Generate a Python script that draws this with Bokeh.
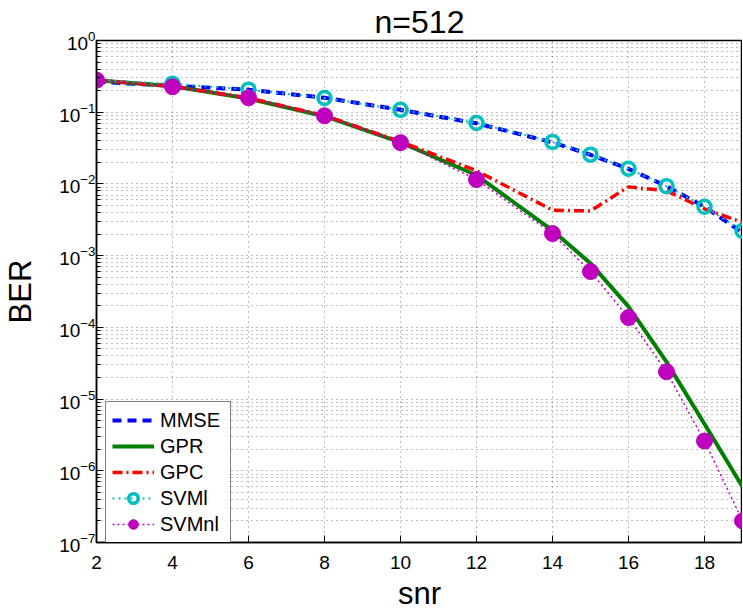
from bokeh.plotting import figure
from bokeh.models import Range1d, FixedTicker, LogTickFormatter, Legend, LegendItem
from bokeh.embed import file_html
from bokeh.resources import INLINE

# ---- data ----
snr = [2, 4, 6, 8, 10, 12, 14, 15, 16, 17, 18, 19]
ber_mmse = [0.265, 0.234, 0.206, 0.159, 0.108, 0.070, 0.038, 0.0255, 0.0162, 0.0093, 0.0048, 0.0021]
ber_gpr = [0.28, 0.23, 0.155, 0.088, 0.038, 0.0132, 0.00225, 0.00078, 0.000195, 3.3e-5, 4.5e-6, 6.0e-7]
ber_gpc = [0.28, 0.23, 0.158, 0.090, 0.039, 0.0153, 0.0043, 0.0042, 0.0091, 0.0080, 0.0045, 0.0029]
ber_svml = [0.28, 0.25, 0.206, 0.158, 0.108, 0.0707, 0.0385, 0.0256, 0.0163, 0.0093, 0.0048, 0.00222]
ber_svmnl = [0.28, 0.226, 0.159, 0.089, 0.0376, 0.0115, 0.00203, 0.00060, 0.000137, 2.4e-5, 2.6e-6, 2.0e-7]

x_ticks = [2, 4, 6, 8, 10, 12, 14, 16, 18]
y_decades = [-7, -6, -5, -4, -3, -2, -1, 0]
title_text = "n=512"
x_label = "snr"
y_label = "BER"
names = ["MMSE", "GPR", "GPC", "SVMl", "SVMnl"]

FONT = "Liberation Sans"

y_major = [10.0 ** d for d in y_decades]
y_minor = [k * 10.0 ** d for d in y_decades[:-1] for k in range(2, 10)]

p = figure(frame_width=646, frame_height=502,
           x_range=Range1d(2, 19), y_range=Range1d(1e-7, 1),
           y_axis_type="log", output_backend="svg", toolbar_location=None,
           min_border_left=89, min_border_right=0, min_border_top=39,
           min_border_bottom=64)
p.background_fill_color = "white"
p.border_fill_color = "white"
p.outline_line_color = "black"
p.outline_line_width = 1.5

p.title.text = title_text
p.title.align = "center"
p.title.text_font = FONT
p.title.text_font_size = "32px"
p.title.text_font_style = "normal"
p.title.text_color = "black"
p.title.standoff = 2

# axes
xa = p.xaxis[0]
xa.ticker = FixedTicker(ticks=x_ticks)
xa.axis_label = x_label
ya = p.yaxis[0]
ya.ticker = FixedTicker(ticks=y_major, minor_ticks=y_minor)
ya.formatter = LogTickFormatter()
ya.axis_label = y_label
for ax in (xa, ya):
    ax.axis_line_width = 1.5
    ax.axis_line_color = "black"
    ax.major_tick_in = 7
    ax.major_tick_out = 0
    ax.minor_tick_in = 4
    ax.minor_tick_out = 0
    ax.major_tick_line_color = "black"
    ax.minor_tick_line_color = "black"
    ax.major_label_text_font = FONT
    ax.major_label_text_font_size = "19px"
    ax.major_label_text_color = "black"
    ax.axis_label_text_font = FONT
    ax.axis_label_text_font_size = "31px"
    ax.axis_label_text_font_style = "normal"
    ax.axis_label_text_color = "black"
xa.minor_tick_line_color = None
xa.major_label_standoff = 13
xa.axis_label_standoff = 4
ya.major_label_standoff = 1
ya.axis_label_standoff = 18

# grid
p.xgrid.ticker = FixedTicker(ticks=x_ticks)
for g in (p.xgrid[0], p.ygrid[0]):
    g.grid_line_color = "black"
    g.grid_line_alpha = 0.5
    g.grid_line_dash = "1 4"
    g.grid_line_width = 1
p.ygrid[0].minor_grid_line_color = "black"
p.ygrid[0].minor_grid_line_alpha = 0.5
p.ygrid[0].minor_grid_line_dash = "1 4"

# series
r_mmse = p.line(snr, ber_mmse, line_color="#0000ff", line_width=4, line_dash="9 6")
r_gpr = p.line(snr, ber_gpr, line_color="#008000", line_width=4)
r_gpc = p.line(snr, ber_gpc, line_color="#ff0000", line_width=3.5, line_dash="10 4 2 4")
r_svml_l = p.line(snr, ber_svml, line_color="#00bfbf", line_width=2, line_dash="2 4")
r_svml_m = p.scatter(snr, ber_svml, size=13, marker="circle", fill_color=None,
                     line_color="#00bfbf", line_width=3.5)
r_svmnl_l = p.line(snr, ber_svmnl, line_color="#bf00bf", line_width=1.5, line_dash="2 3")
r_svmnl_m = p.scatter(snr, ber_svmnl, size=16, marker="circle", fill_color="#bf00bf",
                      line_color="#bf00bf", line_width=1)

legend = Legend(items=[
    LegendItem(label=names[0], renderers=[r_mmse]),
    LegendItem(label=names[1], renderers=[r_gpr]),
    LegendItem(label=names[2], renderers=[r_gpc]),
    LegendItem(label=names[3], renderers=[r_svml_l, r_svml_m]),
    LegendItem(label=names[4], renderers=[r_svmnl_l, r_svmnl_m]),
], location=(9, -1))
legend.border_line_color = "black"
legend.border_line_width = 1.5
legend.background_fill_color = "white"
legend.background_fill_alpha = 1
legend.label_text_font = FONT
legend.label_text_font_size = "20px"
legend.label_text_color = "black"
legend.glyph_width = 42
legend.glyph_height = 24
legend.label_height = 20
legend.label_width = 64
legend.spacing = 2
legend.padding = 6
legend.label_standoff = 6
legend.margin = 0
p.add_layout(legend, "center")

open("out.html", "w").write(file_html(p, INLINE))
